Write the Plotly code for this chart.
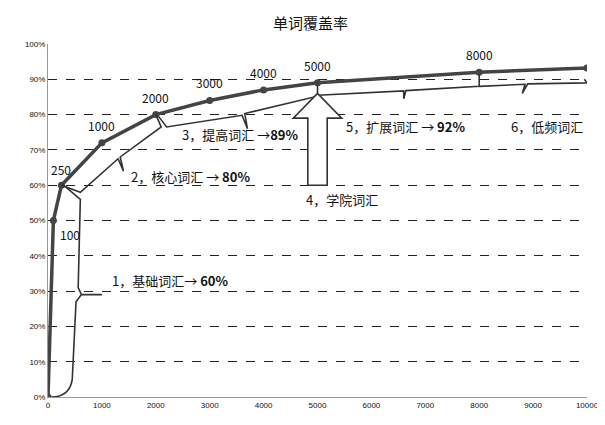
import plotly.graph_objects as go

words = [0, 100, 250, 1000, 2000, 3000, 4000, 5000, 8000, 10000]
coverage = [0, 50, 60, 72, 80, 84, 87, 89, 92, 93.2]
point_labels = ["", "100", "250", "1000", "2000", "3000", "4000", "5000", "8000", ""]
x_ticks = list(range(0, 10001, 1000))
y_ticks = list(range(0, 101, 10))

fig = go.Figure()
fig.add_trace(go.Scatter(x=words, y=coverage, mode="lines+markers",
    line=dict(color="#444", width=3.5), marker=dict(size=7, color="#444"),
    hoverinfo="skip"))

ann = []
for x, y, t in zip(words, coverage, point_labels):
    if not t:
        continue
    if t == "100":
        ann.append(dict(x=x+80, y=y-4, text=t, xanchor="left", yanchor="middle"))
    elif t == "250":
        ann.append(dict(x=x, y=y+1.5, text=t, xanchor="center", yanchor="bottom"))
    else:
        ann.append(dict(x=x, y=y+2, text=t, xanchor="center", yanchor="bottom"))

labels = [
    (1150, 33, "1，基础词汇→ <b>60%</b>"),
    (1500, 62.5, "2，核心词汇 → <b>80%</b>"),
    (2450, 74.5, "3，提高词汇 →<b>89%</b>"),
    (5500, 76.5, "5，扩展词汇 → <b>92%</b>"),
    (8550, 76.5, "6，低频词汇"),
    (4750, 56, "4，学院词汇"),
]
for x, y, t in labels:
    ann.append(dict(x=x, y=y, text=t, xanchor="left", yanchor="middle",
                    font=dict(size=13, color="#111")))

braces = [
    "M 60,0 Q 400,0 450,5 L 520,27 L 620,29 L 1000,29 M 620,29 L 560,31 L 600,56 L 250,60.5",
    "M 250,60 L 600,58 L 1300,67.5 L 1400,64 L 1340,68 L 2100,76.5 L 2000,80",
    "M 2050,79.5 L 2200,76.5 L 3600,79.8 L 3700,76 L 3650,80.3 L 5000,85.2 L 5000,88.5",
    "M 5000,85.5 L 6600,86.7 L 6600,84.5 L 6640,86.8 L 8000,88 L 8000,91.5",
    "M 8000,88 L 8850,88.6 L 8800,86 L 8900,88.7 L 10000,89 L 9950,90",
]
shapes = [dict(type="path", path=p, xref="x", yref="y",
               line=dict(color="#333", width=1.6)) for p in braces]
shapes.append(dict(type="path", xref="x", yref="y",
    path="M 4820,60 L 4820,79 L 4550,79 L 5000,86 L 5450,79 L 5180,79 L 5180,60 Z",
    line=dict(color="#333", width=1.6), fillcolor="white"))

fig.update_layout(
    width=605, height=425, margin=dict(l=40, r=26, t=36, b=36),
    paper_bgcolor="white", plot_bgcolor="white", showlegend=False,
    title=dict(text="单词覆盖率", x=0.5, y=0.975, xanchor="center",
               font=dict(size=15, color="#111", family="Noto Sans CJK SC")),
    font=dict(family="Noto Sans CJK SC, Arial", size=12, color="#111"),
    annotations=[dict(a, showarrow=False, xref="x", yref="y") for a in ann],
    shapes=shapes,
    xaxis=dict(range=[0, 10000], tickvals=x_ticks, ticktext=[str(v) for v in x_ticks],
               showgrid=False, zeroline=False,
               showline=True, linecolor="#999", tickfont=dict(size=8, family="Arial")),
    yaxis=dict(range=[0, 100], tickvals=y_ticks, ticktext=[f"{v}%" for v in y_ticks],
               showgrid=True, gridcolor="#222", griddash="dash", gridwidth=1,
               zeroline=False, showline=True, linecolor="#999",
               tickfont=dict(size=8, family="Arial")),
)
fig.write_html("out.html")
